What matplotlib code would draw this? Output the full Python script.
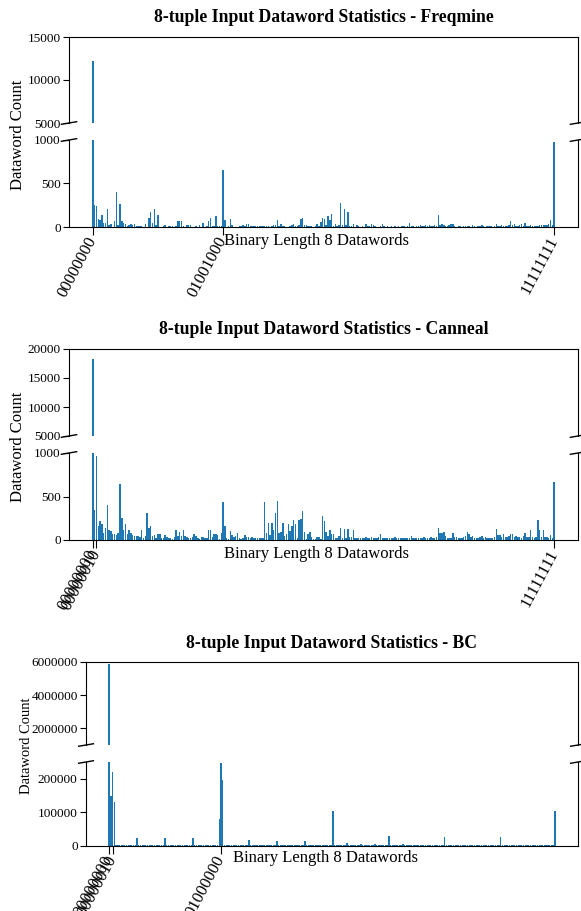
import matplotlib
matplotlib.use("Agg")
import matplotlib.pyplot as plt
from matplotlib.ticker import ScalarFormatter
import numpy as np

plt.rcParams['font.family'] = ['Liberation Serif', 'DejaVu Serif']

# ---------------- data ----------------
freqmine_counts = [
    12200, 255, 240, 90, 85, 140, 45, 45, 210, 25, 35, 5, 70, 400, 25, 270,
    65, 45, 40, 15, 25, 40, 20, 35, 8, 15, 15, 8, 5, 35, 5, 100,
    170, 45, 210, 25, 140, 0, 5, 10, 20, 5, 8, 10, 15, 5, 10, 65,
    65, 65, 10, 5, 25, 25, 20, 5, 5, 15, 5, 20, 5, 45, 5, 10,
    70, 100, 10, 15, 130, 15, 10, 15, 650, 85, 5, 10, 90, 25, 5, 5,
    5, 10, 15, 25, 10, 35, 35, 15, 10, 10, 15, 15, 15, 15, 10, 15,
    15, 10, 5, 10, 25, 20, 85, 10, 40, 10, 10, 5, 5, 10, 25, 35,
    10, 10, 20, 95, 100, 25, 20, 10, 15, 10, 5, 15, 40, 10, 60, 100,
    90, 20, 130, 85, 155, 10, 40, 10, 20, 275, 25, 205, 20, 170, 15, 10,
    40, 5, 25, 10, 5, 10, 5, 35, 15, 10, 35, 20, 10, 5, 5, 10,
    35, 10, 5, 8, 5, 10, 5, 8, 5, 10, 5, 8, 10, 5, 10, 45,
    15, 10, 5, 10, 15, 20, 15, 10, 20, 15, 20, 15, 10, 20, 15, 135,
    25, 40, 25, 15, 10, 20, 35, 35, 10, 5, 10, 8, 5, 10, 8, 15,
    10, 5, 25, 10, 5, 8, 10, 25, 10, 5, 10, 15, 10, 5, 15, 35,
    15, 10, 20, 15, 10, 15, 20, 65, 20, 30, 15, 10, 20, 30, 15, 45,
    15, 10, 25, 15, 15, 15, 15, 20, 20, 25, 20, 20, 30, 85, 20, 980,
]

canneal_counts = [
    18200, 340, 960, 160, 215, 185, 85, 140, 405, 120, 100, 70, 65, 55, 85, 645,
    255, 110, 180, 65, 120, 85, 55, 50, 45, 45, 35, 110, 25, 45, 310, 140,
    160, 45, 55, 25, 65, 65, 20, 25, 55, 35, 25, 20, 15, 30, 120, 45,
    95, 45, 120, 45, 35, 25, 25, 30, 65, 45, 25, 15, 30, 40, 20, 20,
    110, 110, 30, 70, 65, 55, 15, 85, 435, 160, 25, 10, 100, 55, 35, 45,
    85, 20, 15, 25, 55, 35, 35, 20, 35, 20, 20, 25, 20, 20, 20, 440,
    75, 190, 55, 190, 120, 310, 445, 85, 95, 200, 45, 65, 185, 100, 165, 235,
    180, 25, 225, 245, 330, 95, 15, 65, 95, 35, 15, 15, 40, 40, 15, 280,
    215, 95, 45, 120, 65, 70, 25, 20, 45, 140, 25, 130, 20, 130, 35, 35,
    110, 25, 25, 20, 25, 25, 20, 35, 25, 20, 35, 25, 20, 25, 30, 70,
    25, 20, 25, 20, 25, 20, 25, 35, 20, 25, 20, 25, 20, 20, 25, 25,
    45, 20, 25, 20, 25, 25, 20, 30, 25, 20, 25, 30, 20, 25, 30, 140,
    85, 85, 95, 45, 20, 25, 25, 75, 40, 30, 20, 25, 20, 35, 45, 95,
    70, 30, 45, 25, 20, 25, 30, 45, 25, 30, 20, 25, 25, 25, 35, 130,
    55, 55, 30, 70, 35, 30, 45, 70, 65, 35, 45, 30, 35, 25, 45, 85,
    35, 30, 110, 35, 20, 30, 225, 120, 30, 110, 35, 35, 25, 55, 20, 665,
]

bc_counts = [
    5900000, 150000, 220000, 130000, 3000, 2500, 3000, 2000, 3000, 2500, 3000, 2500, 3000, 2500, 3000, 2500,
    25000, 2500, 3000, 2500, 3000, 2000, 3000, 2500, 3000, 2500, 3000, 2500, 2500, 3000, 2500, 3000,
    25000, 3000, 2500, 3000, 2500, 3000, 2000, 3000, 2500, 3000, 2500, 3000, 2500, 2500, 3000, 2500,
    23000, 2500, 3000, 2500, 3000, 2500, 3000, 2000, 3000, 2500, 3000, 2500, 3000, 2500, 3000, 81000,
    248000, 195000, 3000, 2500, 3000, 2500, 3000, 2500, 3000, 2500, 3000, 2000, 3000, 2500, 3000, 2500,
    18000, 2500, 3000, 2500, 3000, 2500, 2000, 3000, 2500, 3000, 2500, 3000, 2500, 3000, 2500, 3000,
    16000, 3000, 2500, 3000, 2500, 3000, 2500, 3000, 2000, 3000, 2500, 3000, 2500, 3000, 2500, 3000,
    15000, 2500, 3000, 2500, 3000, 2500, 3000, 2500, 3000, 2000, 3000, 2500, 3000, 2500, 3000, 2500,
    105000, 2500, 3000, 2500, 3000, 2500, 3000, 2500, 10000, 2500, 3000, 2500, 3000, 2500, 3000, 2500,
    6000, 2500, 3000, 2500, 3000, 2500, 3000, 2500, 6000, 2500, 3000, 2500, 3000, 2500, 3000, 2500,
    30000, 2500, 3000, 2500, 3000, 2500, 3000, 2500, 5000, 2500, 3000, 2500, 3000, 2500, 3000, 2500,
    3000, 2500, 3000, 2500, 3000, 2500, 3000, 2500, 3000, 2500, 3000, 2500, 3000, 2500, 3000, 2500,
    27000, 2500, 3000, 2500, 3000, 2500, 3000, 2500, 3000, 2500, 3000, 2500, 3000, 2500, 3000, 2500,
    3000, 2500, 3000, 2500, 3000, 2500, 3000, 2500, 3000, 2500, 3000, 2500, 3000, 2500, 3000, 2500,
    27000, 2500, 3000, 2500, 3000, 2500, 3000, 2500, 3000, 2500, 3000, 2500, 3000, 2500, 3000, 2500,
    3000, 2500, 3000, 2500, 3000, 2500, 3000, 2500, 3000, 2500, 3000, 2500, 3000, 2500, 3000, 105000,
]

datawords = [format(i, '08b') for i in range(256)]

panels = [
    dict(name='Freqmine', counts=freqmine_counts,
         top_lim=(5000, 15000), top_ticks=[5000, 10000, 15000],
         bot_lim=(0, 1000), bot_ticks=[0, 500, 1000],
         xticks=['00000000', '01001000', '11111111']),
    dict(name='Canneal', counts=canneal_counts,
         top_lim=(5000, 20000), top_ticks=[5000, 10000, 15000, 20000],
         bot_lim=(0, 1000), bot_ticks=[0, 500, 1000],
         xticks=['00000000', '00000010', '11111111']),
    dict(name='BC', counts=bc_counts,
         top_lim=(1000000, 6000000), top_ticks=[2000000, 4000000, 6000000],
         bot_lim=(0, 250000), bot_ticks=[0, 100000, 200000],
         xticks=['00000000', '00000010', '01000000']),
]

# ---------------- layout (pixels) ----------------
W, H = 581, 911
fig = plt.figure(figsize=(W / 100, H / 100), dpi=100)

layouts = [
    dict(left=69, top_ax=(37, 123), bot_ax=(140, 227), title_y=18, xlabel_y=241,
         ylabel_x=18, ylabel_y=135, ylabel_fs=12),
    dict(left=69, top_ax=(349, 436), bot_ax=(453, 540), title_y=330, xlabel_y=554,
         ylabel_x=18, ylabel_y=447, ylabel_fs=12),
    dict(left=86, top_ax=(662, 745), bot_ax=(762, 846), title_y=643, xlabel_y=858,
         ylabel_x=27, ylabel_y=746, ylabel_fs=10.5),
]
right = 578

def rect(left, y0, y1):
    return [left / W, 1 - y1 / H, (right - left) / W, (y1 - y0) / H]

color = '#1f77b4'
d = 0.015

for p, lay in zip(panels, layouts):
    ax_t = fig.add_axes(rect(lay['left'], *lay['top_ax']))
    ax_b = fig.add_axes(rect(lay['left'], *lay['bot_ax']), sharex=ax_t)
    x = np.arange(len(datawords))
    for ax in (ax_t, ax_b):
        ax.bar(x, p['counts'], width=0.8, color=color)
        ax.tick_params(axis='y', labelsize=9.5, colors='black', length=4, pad=2)
        fmt = ScalarFormatter(useOffset=False)
        fmt.set_scientific(False)
        ax.yaxis.set_major_formatter(fmt)
    ax_t.set_ylim(*p['top_lim'])
    ax_t.set_yticks(p['top_ticks'])
    ax_b.set_ylim(*p['bot_lim'])
    ax_b.set_yticks(p['bot_ticks'])
    ax_t.spines['bottom'].set_visible(False)
    ax_b.spines['top'].set_visible(False)
    ax_t.tick_params(axis='x', bottom=False, labelbottom=False)
    pos = [datawords.index(t) for t in p['xticks']]
    ax_b.set_xticks(pos)
    ax_b.set_xticklabels(p['xticks'], rotation=62, ha='right', va='center',
                         rotation_mode='anchor', fontsize=12)
    ax_b.tick_params(axis='x', length=6, pad=2)

    # break marks
    kw = dict(transform=ax_t.transAxes, color='k', clip_on=False, lw=1)
    ax_t.plot((-d, +d), (-d, +d), **kw)
    ax_t.plot((1 - d, 1 + d), (-d, +d), **kw)
    kw.update(transform=ax_b.transAxes)
    ax_b.plot((-d, +d), (1 - d, 1 + d), **kw)
    ax_b.plot((1 - d, 1 + d), (1 - d, 1 + d), **kw)

    cx = (lay['left'] + right) / 2 / W
    fig.text(cx, 1 - lay['title_y'] / H,
             f'8-tuple Input Dataword Statistics - {p["name"]}',
             ha='center', va='center', fontsize=12.7, fontweight='bold')
    fig.text(cx - 0.012, 1 - lay['xlabel_y'] / H, 'Binary Length 8 Datawords',
             ha='center', va='center', fontsize=12)
    fig.text(lay['ylabel_x'] / W, 1 - lay['ylabel_y'] / H, 'Dataword Count',
             ha='center', va='center', rotation=90, fontsize=lay['ylabel_fs'])

fig.savefig('out.png', dpi=100)
